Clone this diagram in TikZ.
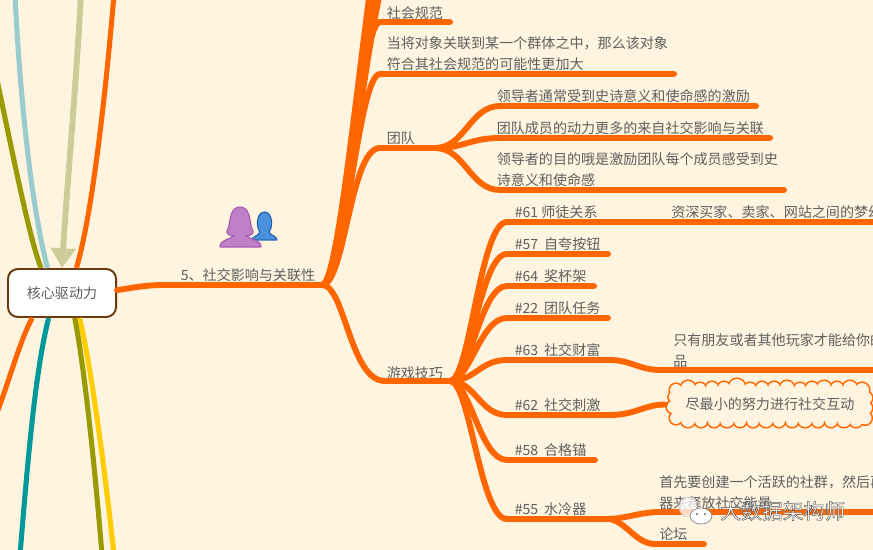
\documentclass[tikz,border=0pt]{standalone}
\usepackage{fontspec}
\usetikzlibrary{arrows.meta}
\newfontfamily\cjk{Noto Sans CJK SC}
\definecolor{paper}{HTML}{FFF4DF}
\definecolor{branchorange}{HTML}{FF6600}
\definecolor{rootbrown}{HTML}{6B3A10}
\definecolor{labelgray}{HTML}{5F5F5F}
\definecolor{olive}{HTML}{999900}
\definecolor{paleblue}{HTML}{99CCCC}
\definecolor{khaki}{HTML}{CCCC99}
\definecolor{teal}{HTML}{009999}
\definecolor{gold}{HTML}{FFCC00}
\definecolor{womanfill}{HTML}{C080C8}
\definecolor{womanedge}{HTML}{A858B0}
\definecolor{manfill}{HTML}{4A90DC}
\definecolor{manedge}{HTML}{2468B0}
\newcommand{\outlinedtext}[1]{\special{pdf:code q 2 Tr 0.3 w 0.3 0.3 0.3 RG 1 1 1 rg}#1\special{pdf:code Q}}
\newcommand{\cloudbumps}{676/390/6,688/388/7,700/389/6,712/388/6,724/388/6,737/387/8,750/389/6,762/388/6,774/388/6,787/388/7,800/389/6,812/388/6,824/388/7,837/388/6,850/388/7,862/390/7,
  676/418/6,688/420/7,701/421/6,714/421/6,727/420/7,740/421/6,753/421/6,766/420/7,779/421/6,792/421/6,805/420/7,818/421/6,831/421/6,844/420/7,856/421/6,865/418/6.5,
  674/397/5.5,673/407/6,866/398/6,866/408/6}

\begin{document}
\begin{tikzpicture}[x=0.025cm,y=-0.025cm,
    topic/.style={anchor=west,inner sep=0pt,align=left,text=labelgray,font=\cjk\fontsize{10}{15}\selectfont},
    branch/.style={draw=branchorange,line width=4.2pt,line cap=round},
    spoke/.style={line width=3.6pt},
    rootbox/.style={draw=rootbrown,fill=white,line width=1.4pt,rounded corners=7pt,minimum width=2.7cm,minimum height=1.2cm,text=labelgray,font=\cjk\fontsize{10}{15}\selectfont},
    cloudbox/.style={minimum width=5.1cm,minimum height=1.15cm,inner sep=0pt,text=labelgray,font=\cjk\fontsize{10}{15}\selectfont}]

\useasboundingbox (0,0) rectangle (873,550);
\fill[paper] (0,0) rectangle (873,550);
\clip (0,0) rectangle (873,550);

\node[rootbox] (root) at (62,293) {核心驱动力};

\coordinate (upolive) at (-4,75);
\coordinate (upblue) at (15,-5);
\coordinate (upkhaki) at (81,-5);
\coordinate (uporange) at (114,-5);
\coordinate (loworange) at (-4,415);
\coordinate (lowteal) at (20,555);
\coordinate (lowolive) at (102,555);
\coordinate (lowgold) at (114,555);

\draw[spoke,draw=olive] (root.130) .. controls (30,240) and (15,165) .. (upolive);
\draw[spoke,draw=paleblue] (root.120) .. controls (32,210) and (20,100) .. (upblue);
\draw[spoke,draw=branchorange] (root.60) .. controls (92,215) and (105,100) .. (uporange);
\draw[spoke,draw=branchorange] (root.-140) .. controls (20,340) and (8,385) .. (loworange);
\draw[spoke,draw=teal] (root.-118) .. controls (35,370) and (27,470) .. (lowteal);
\draw[spoke,draw=gold] (root.-55) .. controls (92,370) and (106,480) .. (lowgold);
\draw[spoke,draw=olive] (root.-63) .. controls (85,370) and (96,480) .. (lowolive);
\draw[line width=4.2pt,draw=khaki,-{Triangle[width=17pt,length=14pt]}] (upkhaki) .. controls (75,100) and (66,200) .. (root.north);

\coordinate (hub) at (322,285);
\coordinate (teamhub) at (435,148);
\coordinate (gamehub) at (450,381);
\coordinate (waterhub) at (607,519);

\draw[branch] (root.3) .. controls (135,287.5) and (145,285) .. (165,285) -- (hub);

\coordinate (hidden1) at (395,-45);
\coordinate (hidden2) at (398,-95);
\coordinate (hidden3) at (400,-150);
\draw[branch] (hub) .. controls (345,285) and (372,-45) .. (hidden1);
\draw[branch] (hub) .. controls (345,285) and (374,-95) .. (hidden2);
\draw[branch] (hub) .. controls (345,285) and (375,-150) .. (hidden3);

\node[topic] (norm) at (386.5,13) {社会规范};
\node[topic] (group) at (386.5,54) {当将对象关联到某一个群体之中，那么该对象\\符合其社会规范的可能性更加大};
\node[topic] (team) at (386.5,138) {团队};
\node[topic] (epic) at (496.5,96) {领导者通常受到史诗意义和使命感的激励};
\node[topic] (drive) at (496.5,128) {团队成员的动力更多的来自社交影响与关联};
\node[topic] (goal) at (496.5,170) {领导者的目的哦是激励团队每个成员感受到史\\诗意义和使命感};
\node[topic] (game) at (386.5,373) {游戏技巧};
\node[topic] (mentor) at (514.5,212) {\#61 师徒关系};
\node[topic] (dream) at (671,212) {资深买家、卖家、网站之间的梦幻};
\node[topic] (brag) at (514.5,244) {\#57\kern2pt{} 自夸按钮};
\node[topic] (trophy) at (514.5,276) {\#64\kern2pt{} 奖杯架};
\node[topic] (quest) at (514.5,308) {\#22\kern2pt{} 团队任务};
\node[topic] (wealth) at (514.5,350) {\#63\kern2pt{} 社交财富};
\node[topic] (friends) at (673,350.5) {只有朋友或者其他玩家才能给你的\\品};
\node[topic] (prod) at (514.5,405) {\#62\kern2pt{} 社交刺激};
\node[topic] (anchor) at (514.5,450) {\#58\kern2pt{} 合格锚};
\node[topic] (cooler) at (514.5,509) {\#55\kern2pt{} 水冷器};
\node[topic] (release) at (659,492.5) {首先要创建一个活跃的社群，然后再\\器来释放社交能量};
\node[topic] (forum) at (659,534) {论坛};
\node[topic,anchor=center] (social) at (248,275) {5、社交影响与关联性};

\coordinate (norma) at (380,22);
\coordinate (normb) at (450,22);
\coordinate (groupa) at (380,74);
\coordinate (groupb) at (674,74);
\coordinate (teama) at (380,148);
\coordinate (epica) at (500,106);
\coordinate (epicb) at (756,106);
\coordinate (drivea) at (500,138);
\coordinate (driveb) at (770,138);
\coordinate (goala) at (500,190);
\coordinate (goalb) at (784,190);
\coordinate (gamea) at (385,381);
\coordinate (mentora) at (507,222);
\coordinate (mentorb) at (880,222);
\coordinate (braga) at (507,254);
\coordinate (bragb) at (608,254);
\coordinate (trophya) at (507,286);
\coordinate (trophyb) at (594,286);
\coordinate (questa) at (507,318);
\coordinate (questb) at (608,318);
\coordinate (wealtha) at (507,360);
\coordinate (wealthb) at (610,360);
\coordinate (wealthc) at (660,370);
\coordinate (wealthd) at (880,370);
\coordinate (proda) at (507,415);
\coordinate (prodb) at (610,415);
\coordinate (anchora) at (507,460);
\coordinate (anchorb) at (595,460);
\coordinate (coolera) at (507,519);
\coordinate (releasea) at (660,512);
\coordinate (releaseb) at (880,512);
\coordinate (foruma) at (655,544);
\coordinate (forumb) at (704,544);

\draw[branch] (hub) .. controls (345,285) and (360,22) .. (norma) -- (normb);
\draw[branch] (hub) .. controls (345,285) and (358,74) .. (groupa) -- (groupb);
\draw[branch] (hub) .. controls (345,285) and (350,148) .. (teama) -- (teamhub);
\draw[branch] (hub) .. controls (345,285) and (350,381) .. (gamea) -- (gamehub);

\draw[branch] (teamhub) .. controls (465,148) and (470,106) .. (epica) -- (epicb);
\draw[branch] (teamhub) .. controls (465,148) and (470,138) .. (drivea) -- (driveb);
\draw[branch] (teamhub) .. controls (465,148) and (470,190) .. (goala) -- (goalb);

\draw[branch] (gamehub) .. controls (470,381) and (480,222) .. (mentora) -- (mentorb);
\draw[branch] (gamehub) .. controls (470,381) and (480,254) .. (braga) -- (bragb);
\draw[branch] (gamehub) .. controls (470,381) and (480,286) .. (trophya) -- (trophyb);
\draw[branch] (gamehub) .. controls (470,381) and (480,318) .. (questa) -- (questb);
\draw[branch] (gamehub) .. controls (475,381) and (480,360) .. (wealtha) -- (wealthb) .. controls (630,360) and (640,370) .. (wealthc) -- (wealthd);
\draw[branch] (gamehub) .. controls (475,381) and (480,415) .. (proda) -- (prodb);
\draw[branch] (gamehub) .. controls (470,381) and (480,460) .. (anchora) -- (anchorb);
\draw[branch] (gamehub) .. controls (470,381) and (480,519) .. (coolera) -- (waterhub);
\draw[branch] (waterhub) .. controls (625,519) and (640,512) .. (releasea) -- (releaseb);
\draw[branch] (waterhub) .. controls (625,519) and (635,544) .. (foruma) -- (forumb);

\foreach \cx/\cy/\cr in \cloudbumps {\draw[branchorange,line width=2.2pt] (\cx,\cy) circle (\cr);}
\foreach \cx/\cy/\cr in \cloudbumps {\fill[paper] (\cx,\cy) circle (\cr);}
\fill[paper] (676,388) rectangle (864,421);
\node[cloudbox] (effort) at (770,404.5) {尽最小的努力进行社交互动};
\draw[branch,shorten >=2pt] (prodb) .. controls (635,415) and (645,404.5) .. (effort.west);

\filldraw[fill=manfill,draw=manedge,line width=0.8pt,line join=round] (251,240) .. controls (252,237) and (258,236) .. (260,232) .. controls (256,228) and (256,212) .. (264.5,212) .. controls (273,212) and (273,228) .. (269,232) .. controls (271,236) and (277,236) .. (277,240) -- cycle;
\filldraw[fill=womanfill,draw=womanedge,line width=0.8pt,line join=round] (220,247) .. controls (220,240) and (228,240) .. (234,236) .. controls (229,236) and (226,233) .. (227,231) .. controls (231,226) and (228,207) .. (240,207) .. controls (252,207) and (249,226) .. (253,231) .. controls (254,234) and (250,236) .. (246,236) .. controls (252,240) and (261,240) .. (261,247) -- cycle;

\filldraw[fill=white,fill opacity=0.75,draw=gray!50,line width=0.4pt] (688,507) ellipse (9 and 10);
\filldraw[fill=white,draw=black!55,line width=0.4pt] (701,516) ellipse (11 and 8);
\fill[black!60] (697,514) circle (1.2);
\fill[black!60] (705,514) circle (1.2);
\node[topic,text=white,font=\cjk\fontsize{14.8}{15}\selectfont] (watermark) at (720,511) {\outlinedtext{大数据架构师}};
\end{tikzpicture}
\end{document}
